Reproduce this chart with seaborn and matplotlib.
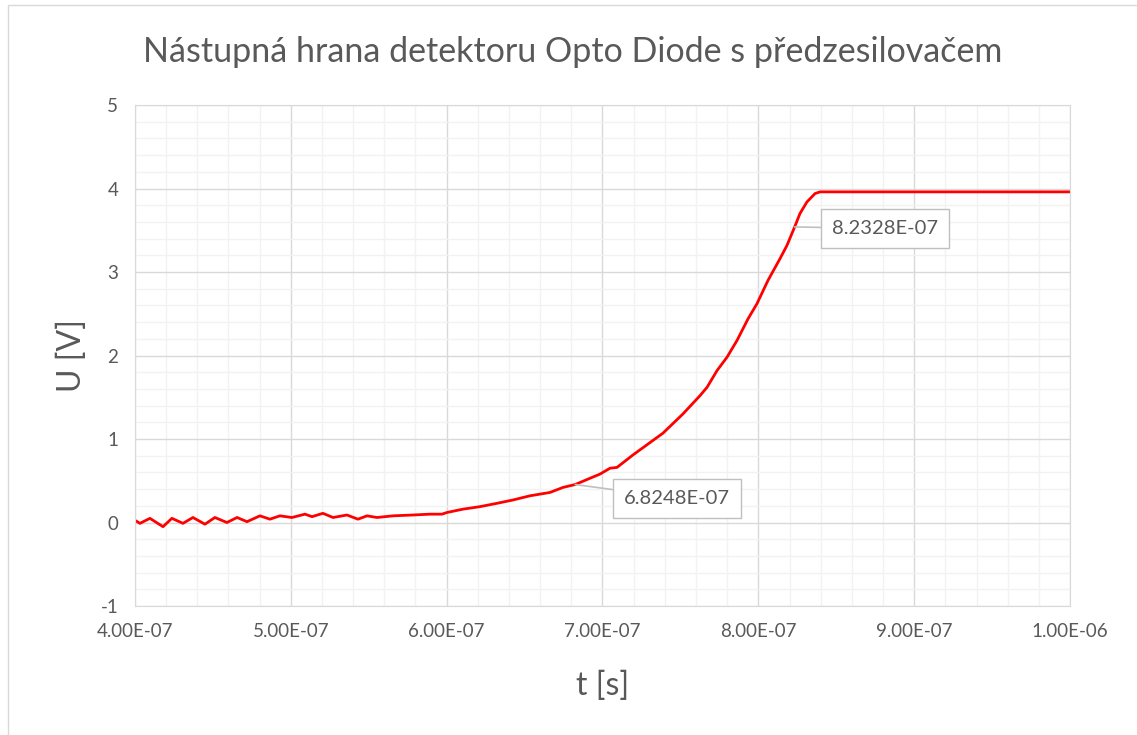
import matplotlib

matplotlib.use("Agg")
import matplotlib.pyplot as plt
import matplotlib.ticker as mticker
import pandas as pd
import seaborn as sns
from matplotlib.patches import Rectangle

# time in ns, voltage in V
time_ns = [
    400.6, 403.2, 409.6, 418.0, 423.7, 430.8, 437.2, 444.9, 451.3, 459.0,
    465.5, 471.9, 480.2, 486.6, 493.0, 500.7, 509.1, 513.6, 520.6, 527.1,
    536.0, 543.1, 548.9, 555.3, 565.6, 578.4, 589.3, 597.0, 600.2, 610.5,
    621.4, 632.3, 642.6, 653.5, 666.3, 674.6, 682.5, 692.0, 698.4, 704.8,
    709.3, 719.6, 738.8, 751.6, 762.6, 767.1, 773.5, 779.9, 786.3, 793.4,
    799.1, 806.2, 813.9, 818.4, 823.3, 826.7, 831.2, 836.4, 839.6, 1000.0,
]
voltage = [
    0.02, -0.01, 0.05, -0.05, 0.05, -0.01, 0.06, -0.02, 0.06, 0.00,
    0.06, 0.01, 0.08, 0.04, 0.08, 0.06, 0.10, 0.07, 0.11, 0.06,
    0.09, 0.04, 0.08, 0.06, 0.08, 0.09, 0.10, 0.10, 0.12, 0.16,
    0.19, 0.23, 0.27, 0.32, 0.36, 0.42, 0.455, 0.53, 0.58, 0.65,
    0.66, 0.81, 1.07, 1.30, 1.52, 1.62, 1.82, 1.98, 2.18, 2.44,
    2.62, 2.90, 3.16, 3.32, 3.54, 3.70, 3.84, 3.94, 3.96, 3.96,
]

annot_t = [6.8248e-07, 8.2328e-07]
annot_u = [0.455, 3.54]
annot_text_t = [7.478e-07, 8.813e-07]
annot_text_u = [0.29, 3.52]

TITLE = "Nástupná hrana detektoru Opto Diode s předzesilovačem"
GRAY = "#595959"

df = pd.DataFrame({"t": [v * 1e-9 for v in time_ns], "U": voltage})

sns.set_style("white")
plt.rcParams["font.family"] = ["Lato", "DejaVu Sans"]

fig = plt.figure(figsize=(11.37, 7.35), dpi=100)
ax = fig.add_axes([0.1187, 0.1755, 0.8224, 0.6816])

sns.lineplot(data=df, x="t", y="U", color="#FF0000", linewidth=2, ax=ax)

ax.set_xlim(4e-07, 1e-06)
ax.set_ylim(-1, 5)
ax.xaxis.set_major_locator(mticker.MultipleLocator(1e-07))
ax.xaxis.set_minor_locator(mticker.MultipleLocator(2e-08))
ax.yaxis.set_major_locator(mticker.MultipleLocator(1))
ax.yaxis.set_minor_locator(mticker.MultipleLocator(0.2))
ax.xaxis.set_major_formatter(mticker.FuncFormatter(lambda v, p: f"{v:.2E}"))
ax.yaxis.set_major_formatter(mticker.FuncFormatter(lambda v, p: f"{v:.0f}"))

ax.grid(which="minor", color="#F2F2F2", linewidth=1)
ax.grid(which="major", color="#D9D9D9", linewidth=1)
ax.set_axisbelow(True)
for s in ax.spines.values():
    s.set_color("#D9D9D9")
ax.tick_params(which="both", length=0, labelsize=13.5, colors=GRAY, pad=12)

ax.set_xlabel("t [s]", fontsize=23, color=GRAY, labelpad=22)
ax.set_ylabel("U [V]", fontsize=23, color=GRAY, labelpad=10)
fig.text(0.504, 0.929, TITLE, ha="center", va="center", fontsize=24.5, color=GRAY)

for x, y, tx, ty in zip(annot_t, annot_u, annot_text_t, annot_text_u):
    ax.annotate(
        f"{x:.4E}",
        xy=(x, y),
        xytext=(tx, ty),
        ha="center",
        va="center",
        fontsize=14.5,
        color=GRAY,
        bbox=dict(boxstyle="square,pad=0.55", fc="white", ec="#BFBFBF", lw=1),
        arrowprops=dict(arrowstyle="-", color="#BFBFBF", lw=1.2, shrinkA=0, shrinkB=0),
    )

fig.patches.append(
    Rectangle((8 / 1137, -0.05), 1.1, 1 - 5 / 735 + 0.05, transform=fig.transFigure,
              fill=False, ec="#D9D9D9", lw=1)
)

fig.savefig("out.png", dpi=100)
